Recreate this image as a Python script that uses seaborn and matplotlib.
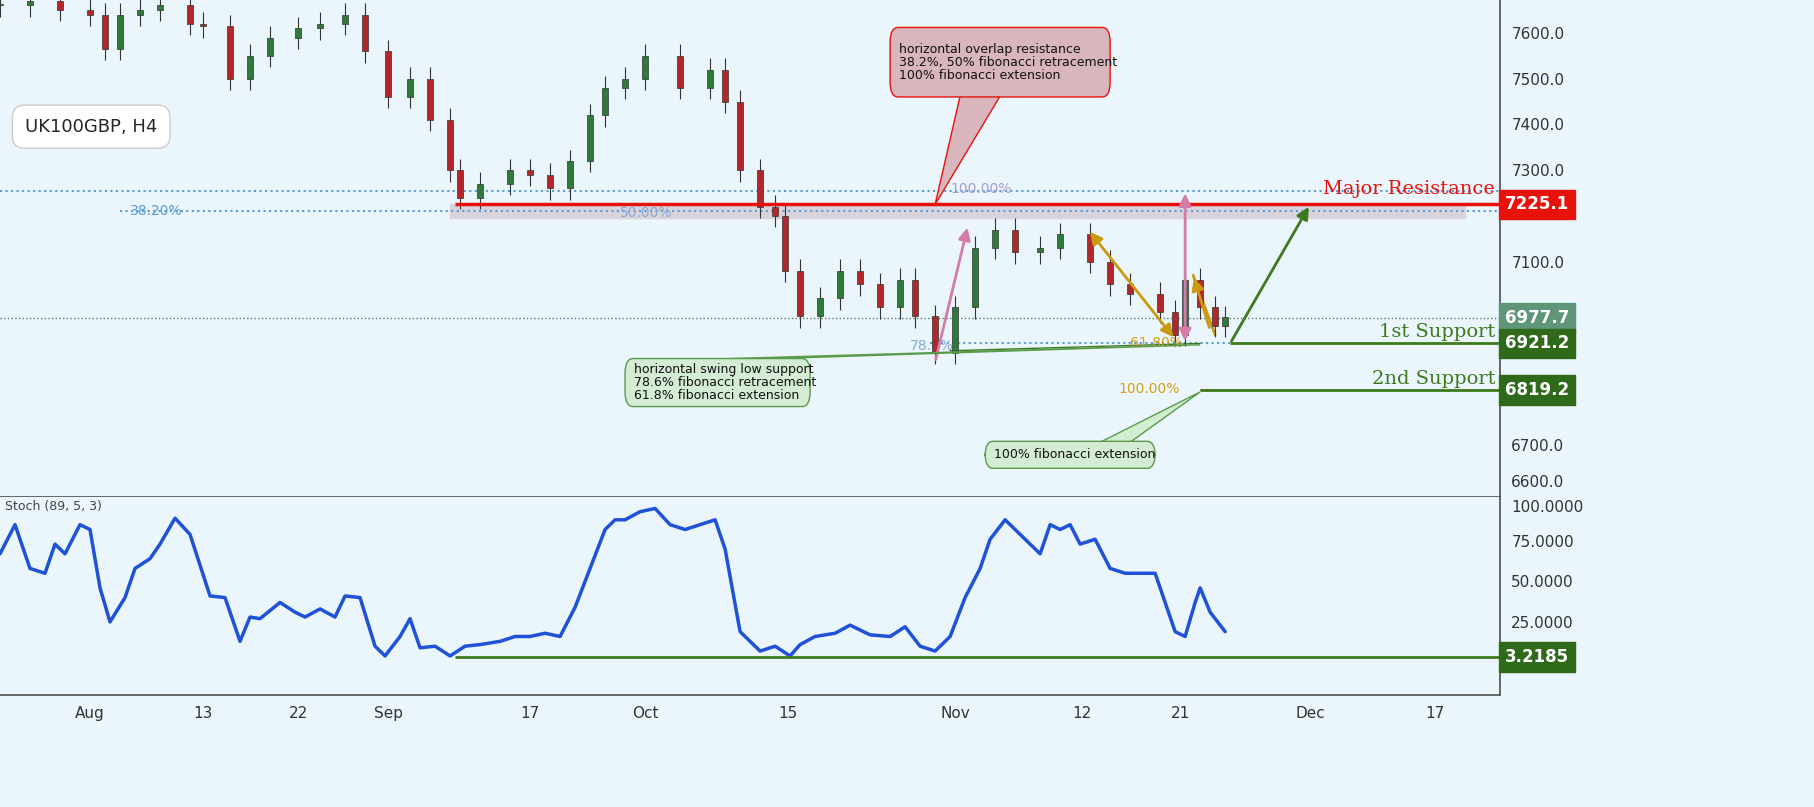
import numpy as np
import pandas as pd
import matplotlib
matplotlib.use("Agg")
import matplotlib.pyplot as plt
import seaborn as sns
from matplotlib.patches import FancyBboxPatch, Polygon

# ---- data (x in bar units) ----
price_x = [0,3,6,9,10.5,12,14,16,19,20.3,23,25,27,29.8,32,34.5,36.5,38.8,41,43,45,46,48,51,53,55,57,59,60.5,62.5,64.5,68,71,72.5,74,76,77.5,78.5,80,82,84,86,88,90,91.5,93.5,95.5,97.5,99.5,101.5,104,106,109,111,113,116,117.5,118.5,120,121.5,122.5]
price_c = [7660,7670,7650,7640,7565,7640,7650,7660,7620,7615,7500,7550,7590,7610,7620,7640,7560,7460,7500,7410,7300,7240,7270,7300,7290,7260,7320,7420,7480,7500,7550,7480,7520,7450,7300,7220,7200,7080,6980,7020,7080,7050,7000,7060,6980,6900,7000,7130,7170,7120,7130,7160,7100,7050,7030,6990,6940,7060,7000,6960,6978]
stoch_x = [0,1.5,3,4.5,5.5,6.5,8,9,10,11,12.5,13.5,15,16,17.5,19,21,22.5,24,25,26,28,29.5,30.5,32,33.5,34.5,36,37.5,38.5,40,41,42,43.5,45,46.5,48,50,51.5,53,54.5,56,57.5,59,60.5,61.5,62.5,64,65.5,67,68.5,70,71.5,72.5,74,76,77.5,79,80,81.5,83.5,85,87,89,90.5,92,93.5,95,96.5,98,99,100.5,101.5,103,104,105,106,107,108,109.5,111,112.5,114,115.5,116.5,117.5,118.5,119.5,120,121,122.5]
stoch_v = [67,85,58,55,73,67,85,82,46,25,40,58,64,73,89,79,41,40,13,28,27,37,31,28,33,28,41,40,10,4,16,27,9,10,4,10,11,13,16,16,18,16,34,58,82,88,88,93,95,85,82,85,88,70,19,7,10,4,11,16,18,23,17,16,22,10,7,16,40,58,76,88,82,73,67,85,82,85,73,76,58,55,55,55,37,19,16,37,46,31,19]
xtick_pos = [9,20.3,29.8,38.8,53,64.5,78.8,95.5,108.2,118,131,143.5]
xtick_lab = ["Aug","13","22","Sep","17","Oct","15","Nov","12","21","Dec","17"]
resist, sup1, sup2, last, stoch_low = 7225.1, 6921.2, 6819.2, 6977.7, 3.2185

BG = "#eaf6fb"
sns.set_theme(style="white")
fig = plt.figure(figsize=(18.14, 8.07), dpi=100, facecolor=BG)
ax = fig.add_axes([0, 0.384, 0.827, 0.616], facecolor=BG)
ax2 = fig.add_axes([0, 0.139, 0.827, 0.245], facecolor=BG, sharex=ax)

# candles
opens = [price_c[0]] + price_c[:-1]
df = pd.DataFrame({"x": price_x, "o": opens, "c": price_c})
for _, r in df.iterrows():
    up = r.c >= r.o
    col = "#2f7a3a" if up else "#b3262a"
    lo, hi = min(r.o, r.c), max(r.o, r.c)
    ax.vlines(r.x, lo - 25, hi + 25, color="#333333", lw=0.8, zorder=3)
    ax.bar(r.x, max(hi - lo, 4), bottom=lo, width=0.6, color=col, edgecolor="#333333", lw=0.5, zorder=4)

ax.set_xlim(0, 150)
ax.set_ylim(6585, 7672)
ax.yaxis.tick_right()
ax.set_yticks(range(6600, 7700, 100))
ax.set_yticklabels([f"{v}.0" for v in range(6600, 7700, 100)], fontsize=11, color="#333")
ax.tick_params(axis="x", labelbottom=False, length=0)
ax.tick_params(axis="y", length=0, pad=8)
for s in ax.spines.values():
    s.set_visible(False)
ax.spines["right"].set_visible(True); ax.spines["right"].set_color("#555")
ax.spines["bottom"].set_visible(True); ax.spines["bottom"].set_color("#555")

# levels
ax.axhspan(7195, 7225, xmin=45/150, xmax=146.5/150, color="#d9d4dc", zorder=1)
ax.hlines(resist, 45.5, 150, color="#e8120c", lw=2.5, zorder=5)
ax.axhline(7255, color="#5b9bd5", ls=":", lw=1.5)
ax.hlines(7210, 12, 150, color="#5b9bd5", ls=":", lw=1.5)
ax.axhline(last, color="#5a7a66", ls=":", lw=1)
ax.hlines(sup1, 93, 123, color="#5b9bd5", ls=":", lw=1.5)
ax.hlines(sup1, 123, 150, color="#3d7a1e", lw=2)
ax.hlines(sup2, 120, 150, color="#d4a017", ls=":", lw=1.5)
ax.hlines(sup2, 120, 150, color="#3d7a1e", lw=2)
ax.plot([95, 120], [6905, 6921], color="#3d7a1e", lw=1)
ax.text(13, 7210, "38.20%", color="#5b9bd5", fontsize=10, va="center")
ax.text(62, 7207, "50.00%", color="#8aa9d6", fontsize=10, va="center")
ax.text(95, 7258, "100.00%", color="#a99bd0", fontsize=10, va="center")
ax.text(91, 6915, "78.6%", color="#8aa9d6", fontsize=10, va="center")
ax.text(113, 6921, "61.80%", color="#d4a017", fontsize=10, va="center")
ax.text(118, 6822, "100.00%", color="#d4a017", fontsize=10, va="center", ha="right")
ax.text(149.5, resist + 15, "Major Resistance", color="#e8120c", fontsize=14, ha="right", va="bottom", family="DejaVu Serif")
ax.text(149.5, sup1 + 5, "1st Support", color="#3d7a1e", fontsize=14, ha="right", va="bottom", family="DejaVu Serif")
ax.text(149.5, sup2 + 5, "2nd Support", color="#3d7a1e", fontsize=14, ha="right", va="bottom", family="DejaVu Serif")

def rlab(a, y, txt, col):
    a.text(1.003, y, txt, transform=a.get_yaxis_transform(), color="white", fontsize=12,
           fontweight="bold", va="center", ha="left", zorder=20, clip_on=False,
           bbox=dict(boxstyle="square,pad=0.35", fc=col, ec=col))
rlab(ax, resist, "7225.1", "#e8120c")
rlab(ax, last, "6977.7", "#5f9678")
rlab(ax, sup1, "6921.2", "#2f6a1a")
rlab(ax, sup2, "6819.2", "#2f6a1a")
for lab in ax.get_yticklabels():
    if lab.get_text() in ("6800.0", "6900.0", "7000.0", "7200.0"):
        lab.set_visible(False)
    if lab.get_text() == "6600.0":
        lab.set_va("bottom")

# arrows
def arr(p, q, col, both=False):
    ax.annotate("", xy=q, xytext=p, arrowprops=dict(arrowstyle="<|-|>" if both else "-|>", color=col, lw=2, mutation_scale=18), zorder=6)
arr((93.5, 6880), (96.8, 7180), "#d37ca9")
arr((118.5, 6920), (118.5, 7255), "#d37ca9", both=True)
arr((117.5, 6930), (108.8, 7170), "#c99a10", both=True)
arr((121, 6950), (119.3, 7070), "#c99a10")
ax.plot([119.3, 121.5], [7070, 6940], color="#c99a10", lw=2)
arr((123, 6921), (131, 7225), "#3d7a1e")

# callouts
def callout(x0, y0, x1, y1, txt, fc, ec, tip, anchor):
    box = FancyBboxPatch((x0, y0), x1 - x0, y1 - y0, boxstyle="round,pad=0,rounding_size=0.8",
                         fc=fc, ec=ec, lw=1, zorder=7, mutation_aspect=40)
    ax.add_patch(box)
    ax.add_patch(Polygon([anchor[0], anchor[1], tip], closed=True, fc=fc, ec=ec, lw=1, zorder=6.9))
    ax.text(x0 + 0.9, (y0 + y1) / 2, txt, fontsize=9, va="center", ha="left", zorder=8, color="#111",
            linespacing=1.0)
callout(89, 7460, 111, 7612, "horizontal overlap resistance\n38.2%, 50% fibonacci retracement\n100% fibonacci extension",
        "#d9b5bd", "#e8120c", (93.5, 7225), ((96, 7462), (100, 7462)))
callout(62.5, 6783, 81, 6888, "horizontal swing low support\n78.6% fibonacci retracement\n61.8% fibonacci extension",
        "#d4ecd4", "#5a9a4a", (120, 6918), ((70, 6886), (75, 6886)))
callout(98.5, 6648, 115.5, 6707, "100% fibonacci extension",
        "#d4ecd4", "#5a9a4a", (120, 6815), ((110, 6705), (113, 6705)))
ax.text(2.5, 7395, "UK100GBP, H4", fontsize=13, va="center", ha="left", zorder=8,
        bbox=dict(boxstyle="round,pad=0.7", fc="white", ec="#cccccc"))

# stochastic
sns.lineplot(x=stoch_x, y=stoch_v, ax=ax2, color="#1f52d6", lw=2.5)
ax2.hlines(stoch_low, 45.5, 150, color="#3d7a1e", lw=2)
ax2.set_ylim(-20, 102)
ax2.yaxis.tick_right()
ax2.set_yticks([25, 50, 75, 100])
ax2.set_yticklabels(["25.0000", "50.0000", "75.0000", "100.0000"], fontsize=11, color="#333")
ax2.get_yticklabels()[-1].set_va("top")
ax2.tick_params(axis="y", length=0, pad=8)
rlab(ax2, stoch_low, "3.2185", "#2f6a1a")
ax2.set_xticks(xtick_pos)
ax2.set_xticklabels(xtick_lab, fontsize=11, color="#333")
ax2.tick_params(axis="x", length=0, pad=8)
for s in ax2.spines.values():
    s.set_visible(False)
ax2.spines["right"].set_visible(True); ax2.spines["right"].set_color("#555")
ax2.spines["bottom"].set_visible(True); ax2.spines["bottom"].set_color("#555")
ax2.text(0.5, 96, "Stoch (89, 5, 3)", fontsize=9, color="#444", va="center")

fig.savefig("out.png", dpi=100, facecolor=BG)
